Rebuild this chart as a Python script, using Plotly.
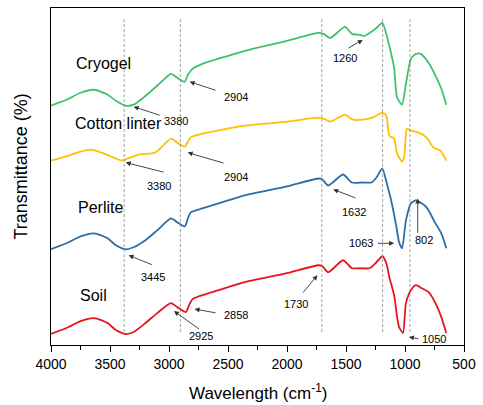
import plotly.graph_objects as go

# ---- data (wavenumber, relative transmittance in arbitrary offset units) ----
cryogel_w = [4000, 3850, 3750, 3633, 3520, 3450, 3367, 3300, 3217, 3100, 2983, 2930, 2867,
             2840, 2800, 2717, 2500, 2325, 2000, 1733, 1690, 1633, 1508, 1450,
             1383, 1342, 1300, 1242, 1192, 1150, 1117, 1092, 1067, 1025, 992, 950, 908, 867,
             800, 733, 692, 650]
cryogel_t = [240, 247, 253, 256, 251, 245, 240, 241, 248, 260, 272, 268, 264,
             271, 277, 282, 290, 296, 305, 313, 312, 308, 319, 312,
             311, 310, 313, 318, 323, 308, 292, 278, 248, 241, 262, 287, 292, 292,
             283, 268, 257, 241]

cotton_w = [4000, 3850, 3750, 3658, 3550, 3470, 3400, 3330, 3258, 3117, 3050, 2983, 2930,
            2867, 2840, 2817, 2717, 2358, 2000, 1733, 1690, 1633, 1508,
            1442, 1358, 1275, 1192, 1158, 1133, 1092, 1067, 1025, 1008, 983, 950, 883, 817,
            758, 700, 650]
cotton_t = [185, 190, 194, 196, 192, 188, 185, 188, 191, 193, 200, 207, 203,
            199, 204, 208, 212, 220, 224, 228, 227, 224, 231,
            226, 226, 228, 233, 230, 210, 207, 192, 184, 188, 217, 215, 213, 208,
            198, 195, 185]

perlite_w = [4000, 3850, 3750, 3633, 3520, 3450, 3367, 3300, 3200, 3100, 2983, 2930, 2867,
             2840, 2817, 2717, 2500, 2358, 2000, 1733, 1700, 1650, 1525, 1450, 1358,
             1283, 1242, 1192, 1150, 1117, 1075, 1050, 1025, 992, 950, 908, 883, 817, 742,
             692, 650]
perlite_t = [96, 103, 109, 112, 107, 100, 96, 98, 105, 115, 127, 123, 119,
             127, 133, 137, 145, 150, 159, 167, 166, 160, 171, 163, 163,
             163, 168, 177, 160, 145, 120, 103, 97, 125, 142, 145, 144, 138, 122,
             112, 97]

soil_w = [4000, 3850, 3750, 3633, 3520, 3450, 3367, 3300, 3200, 3100, 2983, 2930, 2858,
          2830, 2800, 2717, 2500, 2358, 2000, 1733, 1700, 1650, 1525, 1450, 1383,
          1300, 1242, 1192, 1158, 1133, 1092, 1067, 1050, 1017, 992, 950, 908, 858, 800,
          742, 692, 650]
soil_t = [11, 18, 24, 27, 22, 15, 11, 13, 22, 32, 42, 38, 33,
          40, 46, 50, 58, 63, 72, 80, 79, 73, 85, 77, 77,
          77, 83, 89, 82, 68, 50, 28, 18, 12, 42, 55, 60, 57, 53,
          42, 28, 12]

series_names = ["Cryogel", "Cotton linter", "Perlite", "Soil"]
series_colors = ["#3fc26c", "#ffc000", "#2f6ea5", "#e8141a"]
series_label_pos = [(3808, 282), (3817, 222), (3792, 138), (3775, 50)]

vlines = [3380, 2904, 1705, 1190, 958]

# peak annotations: text, text pos (w, t), arrow tail (w, t), arrow head (w, t)
peak_labels = [
    ("3380", (2942, 225), (3067, 230), (3300, 239)),
    ("2904", (2433, 249), (2592, 255), (2825, 264)),
    ("1260", (1508, 288), (1492, 297), (1358, 306)),
    ("3380", (3083, 159), (3033, 173), (3367, 183)),
    ("2904", (2433, 169), (2525, 182), (2842, 193)),
    ("1632", (1433, 133), (1408, 147), (1608, 156)),
    ("3445", (3133, 68), (3133, 80), (3342, 90)),
    ("1063", (1375, 102), (1242, 102), (1092, 102)),
    ("802", (842, 105), (892, 111), (892, 147)),
    ("2858", (2433, 30), (2592, 32), (2783, 36)),
    ("2925", (2725, 9), (2733, 15), (2958, 34)),
    ("1730", (1925, 41), (1875, 51), (1742, 70)),
    ("1050", (758, 6), (875, 6), (967, 8)),
]

FONT = "Arial, Liberation Sans, sans-serif"

fig = go.Figure()
for name, w, t, c in zip(series_names,
                         [cryogel_w, cotton_w, perlite_w, soil_w],
                         [cryogel_t, cotton_t, perlite_t, soil_t],
                         series_colors):
    fig.add_trace(go.Scatter(x=w, y=t, mode="lines", name=name,
                             line=dict(color=c, width=1.8, shape="spline", smoothing=0.6),
                             showlegend=False))

for xv in vlines:
    fig.add_shape(type="line", x0=xv, x1=xv, y0=13, y1=327, xref="x", yref="y",
                  line=dict(color="#8a8a8a", width=0.8, dash="3px,2px"))

anns = []
for name, (lx, ly) in zip(series_names, series_label_pos):
    anns.append(dict(x=lx, y=ly, xref="x", yref="y", text=name, showarrow=False,
                     xanchor="left", yanchor="middle",
                     font=dict(family=FONT, size=16, color="black")))

for txt, (tx, ty), (ax, ay), (hx, hy) in peak_labels:
    anns.append(dict(x=tx, y=ty, xref="x", yref="y", text=txt, showarrow=False,
                     xanchor="center", yanchor="middle",
                     font=dict(family=FONT, size=11, color="black")))
    anns.append(dict(x=hx, y=hy, xref="x", yref="y", ax=ax, ay=ay, axref="x", ayref="y",
                     text="", showarrow=True, arrowhead=2, arrowsize=1.1,
                     arrowwidth=0.9, arrowcolor="#333333", standoff=0, startstandoff=0))

anns.append(dict(x=-0.0714, y=0.528, xref="paper", yref="paper", text="Transmittance (%)",
                 textangle=-90, showarrow=False, xanchor="center", yanchor="middle",
                 font=dict(family=FONT, size=18, color="black")))
anns.append(dict(x=0.501, y=-0.139, xref="paper", yref="paper",
                 text="Wavelength (cm<sup>-1</sup>)", showarrow=False,
                 xanchor="center", yanchor="middle",
                 font=dict(family=FONT, size=17, color="black")))

fig.update_layout(
    width=483, height=405,
    margin=dict(l=51, r=12, t=7, b=60),
    plot_bgcolor="white", paper_bgcolor="white",
    annotations=anns,
    xaxis=dict(range=[4000, 500], tickmode="linear", tick0=500, dtick=500,
               ticks="outside", ticklen=6, tickwidth=1, tickcolor="black",
               showline=True, linecolor="black", linewidth=1, mirror=True,
               showgrid=False, zeroline=False,
               tickfont=dict(family=FONT, size=14, color="black"),
               minor=dict(ticks="outside", ticklen=4, tickwidth=1, tickcolor="black",
                          dtick=250, tick0=500, showgrid=False)),
    yaxis=dict(range=[0, 338], showticklabels=False, ticks="",
               showline=True, linecolor="black", linewidth=1, mirror=True,
               showgrid=False, zeroline=False),
)

fig.write_html("out.html")
